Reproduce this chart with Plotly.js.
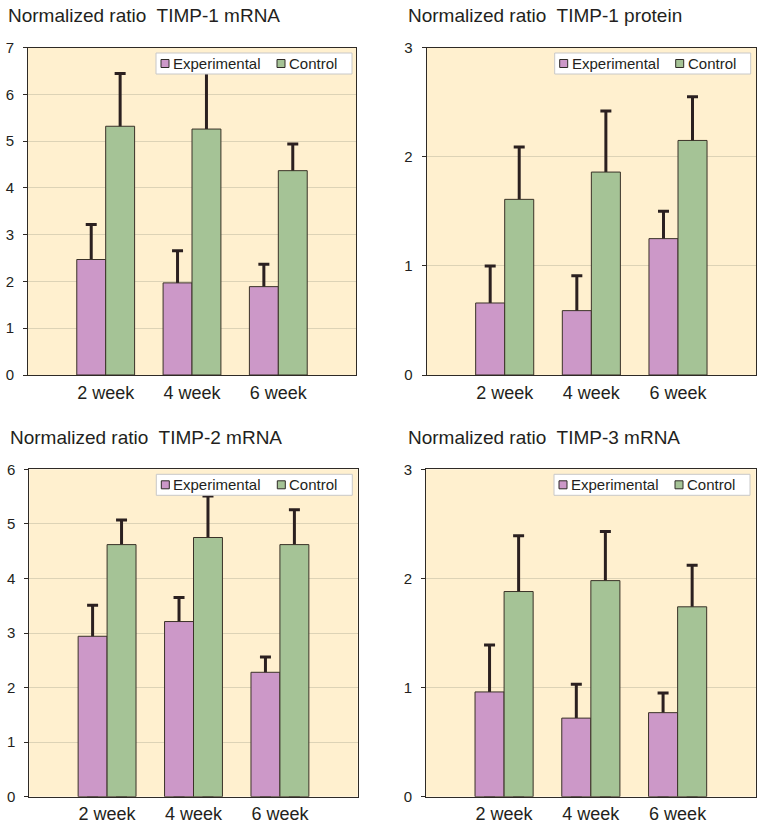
<!DOCTYPE html>
<html>
<head>
<meta charset="utf-8">
<script src="https://cdn.plot.ly/plotly-3.0.1.min.js"></script>
<style>
html,body{margin:0;padding:0;background:#fff;}
#chart{width:765px;height:830px;}
</style>
</head>
<body>
<div id="chart"></div>
<script>
// ---- data ----
const categories = ['2 week', '4 week', '6 week'];
const seriesNames = ['Experimental', 'Control'];

const titles = [
  'Normalized ratio  TIMP-1 mRNA',
  'Normalized ratio  TIMP-1 protein',
  'Normalized ratio  TIMP-2 mRNA',
  'Normalized ratio  TIMP-3 mRNA'
];

const timp1mRNA_exp = [2.47, 1.97, 1.89];
const timp1mRNA_expSD = [0.75, 0.69, 0.48];
const timp1mRNA_ctrl = [5.32, 5.26, 4.37];
const timp1mRNA_ctrlSD = [1.13, 1.24, 0.57];

const timp1prot_exp = [0.66, 0.59, 1.25];
const timp1prot_expSD = [0.34, 0.32, 0.25];
const timp1prot_ctrl = [1.61, 1.86, 2.15];
const timp1prot_ctrlSD = [0.48, 0.56, 0.40];

const timp2mRNA_exp = [2.94, 3.21, 2.28];
const timp2mRNA_expSD = [0.57, 0.44, 0.28];
const timp2mRNA_ctrl = [4.62, 4.75, 4.62];
const timp2mRNA_ctrlSD = [0.45, 0.76, 0.64];

const timp3mRNA_exp = [0.96, 0.72, 0.77];
const timp3mRNA_expSD = [0.43, 0.31, 0.18];
const timp3mRNA_ctrl = [1.88, 1.98, 1.74];
const timp3mRNA_ctrlSD = [0.51, 0.45, 0.38];

const yMax = [7, 3, 6, 3];

// ---- styling / layout ----
const FONT = '"Liberation Sans", Arial, Helvetica, sans-serif';
const EXP_COLOR = '#CC98C8';
const CTRL_COLOR = '#A5C396';
const SERIES_COLORS = [EXP_COLOR, CTRL_COLOR];
const BAR_LINE = '#3a3228';
const ERR_COLOR = '#2b2020';
const TEXT_COLOR = '#231f20';

const panels = [
  {exp: timp1mRNA_exp, expSD: timp1mRNA_expSD, ctrl: timp1mRNA_ctrl, ctrlSD: timp1mRNA_ctrlSD},
  {exp: timp1prot_exp, expSD: timp1prot_expSD, ctrl: timp1prot_ctrl, ctrlSD: timp1prot_ctrlSD},
  {exp: timp2mRNA_exp, expSD: timp2mRNA_expSD, ctrl: timp2mRNA_ctrl, ctrlSD: timp2mRNA_ctrlSD},
  {exp: timp3mRNA_exp, expSD: timp3mRNA_expSD, ctrl: timp3mRNA_ctrl, ctrlSD: timp3mRNA_ctrlSD}
];

const W = 765, H = 830;
// plot-area pixel boxes [left, right, top, bottom]
const boxes = [
  [28, 356, 47.7, 375],
  [426.7, 756, 47.7, 375],
  [29.3, 357.7, 469.3, 796.7],
  [426, 755.7, 469.3, 796.7]
];
// legend box [left, top] in px
const legendPos = [
  [156, 53], [554.7, 53], [156.3, 474.3], [554, 474.3]
];
const LEG_W = 196, LEG_H = 21;
const SW = 8;                     // swatch size
const itemOffsets = [[5, 15], [121, 131]]; // [swatch x, text x] within legend box
const titlePos = [
  [6, 15], [406, 15], [8, 437], [406, 437]
];

const px = v => v / W;
const py = v => 1 - v / H;

const data = [];
const layout = {
  width: W, height: H,
  margin: {l: 0, r: 0, t: 0, b: 0},
  paper_bgcolor: '#ffffff',
  plot_bgcolor: '#FFF0CF',
  barmode: 'group',
  bargap: 0.33,
  bargroupgap: 0,
  font: {family: FONT, color: TEXT_COLOR},
  showlegend: false,
  annotations: [],
  shapes: []
};

panels.forEach((p, i) => {
  const n = i === 0 ? '' : String(i + 1);
  const xa = 'x' + n, ya = 'y' + n;

  // error-bar carriers (drawn beneath the visible bars, so only the upper part shows)
  [[p.exp, p.expSD, 'exp'], [p.ctrl, p.ctrlSD, 'ctrl']].forEach(([vals, sd, grp]) => {
    data.push({
      type: 'bar', x: categories, y: vals, xaxis: xa, yaxis: ya,
      offsetgroup: grp, showlegend: false, hoverinfo: 'skip',
      marker: {color: 'rgba(0,0,0,0)', line: {width: 0}},
      error_y: {type: 'data', symmetric: false, array: sd, arrayminus: vals,
                color: ERR_COLOR, thickness: 3, width: 5.5}
    });
  });
  // visible bars
  data.push({
    type: 'bar', name: seriesNames[0], x: categories, y: p.exp,
    xaxis: xa, yaxis: ya, offsetgroup: 'exp',
    marker: {color: EXP_COLOR, line: {color: BAR_LINE, width: 1}}
  });
  data.push({
    type: 'bar', name: seriesNames[1], x: categories, y: p.ctrl,
    xaxis: xa, yaxis: ya, offsetgroup: 'ctrl',
    marker: {color: CTRL_COLOR, line: {color: BAR_LINE, width: 1}}
  });

  const b = boxes[i];
  layout['xaxis' + n] = {
    domain: [px(b[0]), px(b[1])],
    anchor: ya,
    type: 'category',
    range: [-0.9, 2.9],
    showgrid: false,
    showline: true, linecolor: '#2e2a26', linewidth: 1, mirror: true,
    ticks: '',
    tickfont: {family: FONT, size: 18, color: TEXT_COLOR},
    ticklabelstandoff: 1,
    fixedrange: true
  };
  layout['yaxis' + n] = {
    domain: [py(b[3]), py(b[2])],
    anchor: xa,
    range: [0, yMax[i]],
    dtick: 1,
    showgrid: true, gridcolor: '#DDD3B6', gridwidth: 1,
    zeroline: false,
    showline: true, linecolor: '#2e2a26', linewidth: 1, mirror: true,
    ticks: 'outside', ticklen: 4, tickcolor: '#2e2a26',
    tickfont: {family: FONT, size: 15, color: TEXT_COLOR},
    ticklabelstandoff: 6,
    fixedrange: true
  };

  // legend box (drawn above the traces, as in the original)
  const lp = legendPos[i];
  layout.shapes.push({
    type: 'rect', xref: 'paper', yref: 'paper',
    x0: px(lp[0]), x1: px(lp[0] + LEG_W), y0: py(lp[1] + LEG_H), y1: py(lp[1]),
    fillcolor: '#ffffff', line: {color: '#c8c8c8', width: 1}, layer: 'above'
  });
  const cy = lp[1] + LEG_H / 2;
  seriesNames.forEach((name, k) => {
    const sx = lp[0] + itemOffsets[k][0];
    layout.shapes.push({
      type: 'rect', xref: 'paper', yref: 'paper',
      x0: px(sx), x1: px(sx + SW), y0: py(cy + SW / 2), y1: py(cy - SW / 2),
      fillcolor: SERIES_COLORS[k], line: {color: '#2e2a26', width: 1}, layer: 'above'
    });
    layout.annotations.push({
      text: name, xref: 'paper', yref: 'paper',
      x: px(lp[0] + itemOffsets[k][1]), y: py(cy),
      xanchor: 'left', yanchor: 'middle', showarrow: false,
      font: {family: FONT, size: 15, color: TEXT_COLOR}
    });
  });

  const tp = titlePos[i];
  layout.annotations.push({
    text: titles[i], xref: 'paper', yref: 'paper',
    x: px(tp[0]), y: py(tp[1]),
    xanchor: 'left', yanchor: 'middle', showarrow: false,
    font: {family: FONT, size: 19, color: TEXT_COLOR}
  });
});

Plotly.newPlot('chart', data, layout, {displayModeBar: false, staticPlot: true});
</script>
</body>
</html>
